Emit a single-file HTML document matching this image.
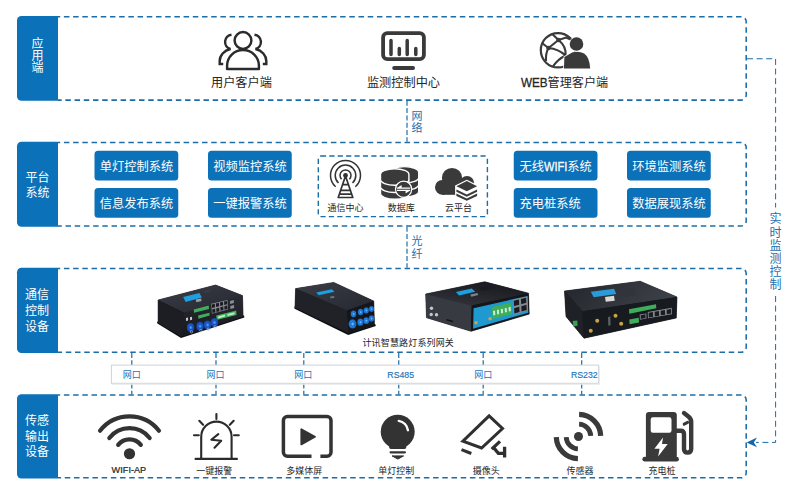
<!DOCTYPE html>
<html lang="zh-CN">
<head>
<meta charset="utf-8">
<title>智慧路灯系统架构图</title>
<style>
html,body{margin:0;padding:0;background:#fff;}
body{width:800px;height:500px;overflow:hidden;font-family:"Liberation Sans","Noto Sans CJK SC",sans-serif;}
svg{display:block;}
svg text{font-family:"Liberation Sans","Noto Sans CJK SC",sans-serif;}
</style>
</head>
<body>
<svg width="800" height="500" viewBox="0 0 800 500" role="img" aria-label="智慧路灯系统架构图">
<rect width="800" height="500" fill="#fff"/>
<g id="frames">
<path d="M58 16.75 H741.2 A5 5 0 0 1 746.2 21.75 V95.1 A5 5 0 0 1 741.2 100.1 H58" fill="none" stroke="#1d6da6" stroke-width="1.55" stroke-dasharray="5.5 3.707" stroke-dashoffset="3.3"/>
<path d="M58 16.05 H21.5 A4.5 4.5 0 0 0 17 20.55 V96.3 A4.5 4.5 0 0 0 21.5 100.8 H58 Z" fill="#0b71b8"/>
<path d="M58 142.5 H741.2 A5 5 0 0 1 746.2 147.5 V221 A5 5 0 0 1 741.2 226 H58" fill="none" stroke="#1d6da6" stroke-width="1.55" stroke-dasharray="5.5 3.707" stroke-dashoffset="3.3"/>
<path d="M58 141.8 H21.5 A4.5 4.5 0 0 0 17 146.3 V222.2 A4.5 4.5 0 0 0 21.5 226.7 H58 Z" fill="#0b71b8"/>
<path d="M58 268.5 H741.2 A5 5 0 0 1 746.2 273.5 V347.3 A5 5 0 0 1 741.2 352.3 H58" fill="none" stroke="#1d6da6" stroke-width="1.55" stroke-dasharray="5.5 3.707" stroke-dashoffset="3.3"/>
<path d="M58 267.8 H21.5 A4.5 4.5 0 0 0 17 272.3 V348.5 A4.5 4.5 0 0 0 21.5 353 H58 Z" fill="#0b71b8"/>
<path d="M58 395 H741.2 A5 5 0 0 1 746.2 400 V472.8 A5 5 0 0 1 741.2 477.8 H58" fill="none" stroke="#1d6da6" stroke-width="1.55" stroke-dasharray="5.5 3.707" stroke-dashoffset="3.3"/>
<path d="M58 394.3 H21.5 A4.5 4.5 0 0 0 17 398.8 V474 A4.5 4.5 0 0 0 21.5 478.5 H58 Z" fill="#0b71b8"/>
</g>
<g id="connectors" fill="none" stroke="#1d6da6" stroke-width="1.2" stroke-dasharray="5 2.3">
<path d="M407 100.8V141.8"/>
<path d="M407 226.8V267.8"/>
<path d="M131.8 353V365"/><path d="M131.8 383.4V394.4"/>
<path d="M216 353V365"/><path d="M216 383.4V394.4"/>
<path d="M303.8 353V365"/><path d="M303.8 383.4V394.4"/>
<path d="M398.75 353V365"/><path d="M398.75 383.4V394.4"/>
<path d="M483.2 353V365"/><path d="M483.2 383.4V394.4"/>
<path d="M581.7 353V365"/><path d="M581.7 383.4V394.4"/>
</g>
<g id="loop" fill="none" stroke="#1d6da6" stroke-width="1" stroke-dasharray="6 3.6">
<path d="M747 58.75H775.6V207.5"/>
<path d="M775.6 296V442.4H756"/>
</g>
<path d="M746.6 442.4L757 437.5L753.8 442.4L757 447.3Z" fill="#1565a8"/>
<g fill="#fff" aria-label="应"><text x="31.4" y="47.96" font-size="12">应</text></g>
<g fill="#fff" aria-label="用"><text x="31.4" y="60.06" font-size="12">用</text></g>
<g fill="#fff" aria-label="端"><text x="31.4" y="72.16" font-size="12">端</text></g>
<g fill="#fff" aria-label="平台"><text x="25.5" y="181.66" font-size="12">平台</text></g>
<g fill="#fff" aria-label="系统"><text x="25.5" y="196.76" font-size="12">系统</text></g>
<g fill="#fff" aria-label="通信"><text x="25" y="298.96" font-size="12">通信</text></g>
<g fill="#fff" aria-label="控制"><text x="25" y="314.96" font-size="12">控制</text></g>
<g fill="#fff" aria-label="设备"><text x="25" y="330.56" font-size="12">设备</text></g>
<g fill="#fff" aria-label="传感"><text x="25" y="425.16" font-size="12">传感</text></g>
<g fill="#fff" aria-label="输出"><text x="25" y="440.86" font-size="12">输出</text></g>
<g fill="#fff" aria-label="设备"><text x="25" y="456.26" font-size="12">设备</text></g>
<g fill="#1b6fae" aria-label="网"><text x="411.4" y="119.68" font-size="11">网</text></g>
<g fill="#1b6fae" aria-label="络"><text x="411.4" y="131.98" font-size="11">络</text></g>
<g fill="#1b6fae" aria-label="光"><text x="411.4" y="245.38" font-size="11">光</text></g>
<g fill="#1b6fae" aria-label="纤"><text x="411.4" y="257.68" font-size="11">纤</text></g>
<g fill="#1b6fae" aria-label="实"><text x="769.4" y="223.36" font-size="12">实</text></g>
<g fill="#1b6fae" aria-label="时"><text x="769.4" y="236.76" font-size="12">时</text></g>
<g fill="#1b6fae" aria-label="监"><text x="769.4" y="249.56" font-size="12">监</text></g>
<g fill="#1b6fae" aria-label="测"><text x="769.4" y="262.96" font-size="12">测</text></g>
<g fill="#1b6fae" aria-label="控"><text x="769.4" y="276.16" font-size="12">控</text></g>
<g fill="#1b6fae" aria-label="制"><text x="769.4" y="288.66" font-size="12">制</text></g>
<g fill="#262626" aria-label="用户客户端"><text x="211" y="87.24" font-size="12.2">用户客户端</text></g>
<g fill="#262626" aria-label="监测控制中心"><text x="366.9" y="87.24" font-size="12.2">监测控制中心</text></g>
<g fill="#262626" aria-label="WEB管理客户端"><text x="520.88" y="87.2" font-size="12.83" textLength="26.73" lengthAdjust="spacingAndGlyphs" stroke="#262626" stroke-width="0.3">WEB</text><text x="547.62" y="87.2" font-size="12.1">管理客户端</text></g>
<g id="ico-users" fill="none" stroke="#2b2b2b" stroke-width="2.45" stroke-linecap="butt" stroke-linejoin="round">
<circle cx="243" cy="40.5" r="8.4"/>
<path d="M227.1 68.9V65.6A15.9 15.6 0 0 1 258.9 65.6V68.9Z"/>
<path d="M231.5 34.7A7.3 7.3 0 0 0 230.5 49C224 50.5 219.7 55.5 219.7 61V63.9H223.2" stroke-linejoin="miter"/>
<path d="M254.5 34.7A7.3 7.3 0 0 1 255.5 49C262 50.5 266.3 55.5 266.3 61V63.9H262.8" stroke-linejoin="miter"/>
</g>
<g id="ico-monitor" fill="none" stroke="#3a3a3a" stroke-linecap="round">
<rect x="383.1" y="33.1" width="40.8" height="26" rx="4.2" stroke-width="3.8"/>
<path d="M391 40.6V54.6M407.2 40.6V54.6M399.3 48.6V54.6M415.8 48.6V54.6" stroke-width="3.5"/>
<path d="M394.2 68H413" stroke-width="4"/>
</g>
<g id="ico-web">
<g fill="none" stroke="#3a3a3a" stroke-width="2.1">
<circle cx="558" cy="50.25" r="17.2" stroke-width="2.2"/>
<path d="M558.5 40L552.5 34.2M558.5 40L566 37.6L573 40.6M558.5 40L548.5 48M558.5 40Q566.5 46.5 565.6 55.5M548.5 48L542.6 43.5M548.5 48Q545.5 53 546 61M548.5 48Q558.5 49 565.6 55.5Q558 59 553 66.4"/>
</g>
<circle cx="558.5" cy="40" r="2.3" fill="#3a3a3a"/><circle cx="548.5" cy="48" r="2.3" fill="#3a3a3a"/>
<g fill="#3a3a3a" stroke="#fff" stroke-width="1.6" paint-order="stroke">
<path d="M563.9 68.6L564.4 57L572.6 52.3Q579 50.6 584.2 53.6Q589.6 57.5 590.2 68.6Z"/>
<circle cx="576.5" cy="44" r="6.8"/>
</g></g>
<rect x="94.5" y="150.75" width="83.75" height="29.8" rx="3.5" fill="#0b71b8"/>
<g fill="#fff" aria-label="单灯控制系统"><text x="99.65" y="171.31" font-size="12.25">单灯控制系统</text></g>
<rect x="94.5" y="188" width="83.75" height="29.8" rx="3.5" fill="#0b71b8"/>
<g fill="#fff" aria-label="信息发布系统"><text x="99.65" y="207.96" font-size="12.25">信息发布系统</text></g>
<rect x="208" y="150.75" width="83.75" height="29.8" rx="3.5" fill="#0b71b8"/>
<g fill="#fff" aria-label="视频监控系统"><text x="213.15" y="171.31" font-size="12.25">视频监控系统</text></g>
<rect x="208" y="188" width="83.75" height="29.8" rx="3.5" fill="#0b71b8"/>
<g fill="#fff" aria-label="一键报警系统"><text x="213.15" y="207.96" font-size="12.25">一键报警系统</text></g>
<rect x="513.75" y="150.75" width="83.75" height="29.8" rx="3.5" fill="#0b71b8"/>
<g fill="#fff" aria-label="无线WIFI系统"><text x="519.48" y="171.31" font-size="12.25">无线</text><text x="543.98" y="171.31" font-size="12.86" textLength="23.34" lengthAdjust="spacingAndGlyphs" stroke="#fff" stroke-width="0.3">WIFI</text><text x="567.32" y="171.31" font-size="12.25">系统</text></g>
<rect x="513.75" y="188" width="83.75" height="29.8" rx="3.5" fill="#0b71b8"/>
<g fill="#fff" aria-label="充电桩系统"><text x="519.55" y="207.96" font-size="12.25">充电桩系统</text></g>
<rect x="627" y="150.75" width="83.75" height="29.8" rx="3.5" fill="#0b71b8"/>
<g fill="#fff" aria-label="环境监测系统"><text x="632.15" y="171.31" font-size="12.25">环境监测系统</text></g>
<rect x="627" y="188" width="83.75" height="29.8" rx="3.5" fill="#0b71b8"/>
<g fill="#fff" aria-label="数据展现系统"><text x="632.15" y="207.96" font-size="12.25">数据展现系统</text></g>
<rect x="318.3" y="156" width="169.1" height="60.6" rx="2.6" fill="none" stroke="#1d6da6" stroke-width="1.4" stroke-dasharray="5.2 3.2"/>
<g fill="#262626" aria-label="通信中心"><text x="327.5" y="210.72" font-size="9">通信中心</text></g>
<g fill="#262626" aria-label="数据库"><text x="387.7" y="210.92" font-size="9">数据库</text></g>
<g fill="#262626" aria-label="云平台"><text x="445.1" y="210.92" font-size="9">云平台</text></g>
<g id="ico-tower" fill="none" stroke="#333" stroke-width="1.5">
<path d="M341.54 179.22A5.5 5.5 0 1 1 349.46 179.22"/>
<path d="M338.48 182.93A10.3 10.3 0 1 1 352.52 182.93"/>
<path d="M335.66 186.72A15.0 15.0 0 1 1 355.34 186.72"/>
<path d="M345.5 176L338.2 197.5H352.8Z" fill="#fff" stroke-width="1.7" stroke-linejoin="round"/>
<path d="M342.6 184.6H348.4M340.7 190.3H350.3M339.4 194.1H351.6" stroke-width="1.7"/>
<circle cx="345.5" cy="175.4" r="2.4" fill="#333" stroke="none"/>
</g>
<g id="ico-db" fill="#3a3a3a" stroke="#fff" stroke-width="1.4">
<path d="M390.3 186A14.2 5.7 0 0 1 418.7 186V191.4A14.2 5.7 0 0 1 390.3 191.4Z"/>
<path d="M390.3 178.8A14.2 5.7 0 0 1 418.7 178.8V184.6A14.2 5.7 0 0 1 390.3 184.6Z"/>
<path d="M390.3 172.3A14.2 5.7 0 0 1 418.7 172.3V177.4A14.2 5.7 0 0 1 390.3 177.4Z"/>
<path d="M380.5 188.2A14.2 5.7 0 0 1 408.9 188.2V193.6A14.2 5.7 0 0 1 380.5 193.6Z"/>
<path d="M380.5 181A14.2 5.7 0 0 1 408.9 181V186.8A14.2 5.7 0 0 1 380.5 186.8Z"/>
<path d="M380.5 174.5A14.2 5.7 0 0 1 408.9 174.5V179.6A14.2 5.7 0 0 1 380.5 179.6Z"/>
<circle cx="403.6" cy="189.2" r="8.1" stroke-width="1.2"/>
<g fill="#fff" stroke="none"><path d="M397 187.4H410.2V188.7H397ZM397 188L401.6 184.9V188Z"/><path d="M397 189.8H410.2V191.1H397ZM410.2 190.4L405.6 193.6V190.4Z"/></g>
</g>
<g id="ico-cloud">
<g fill="#3a3a3a"><circle cx="452" cy="178" r="10.1"/><circle cx="442.4" cy="187.3" r="7.4"/><circle cx="467" cy="183" r="7.1"/><rect x="442" y="184" width="25" height="10.8"/></g>
<polygon points="466.8,179.8 478.4,185.5 478.4,195.4 466.8,201.1 455.1,195.4 455.1,185.5" fill="#fff"/>
<g fill="#3a3a3a">
<polygon points="456.4,186.2 466.8,181.1 477.1,186.2 466.8,191.3"/>
<polygon points="456.4,189.5 466.8,194.4 477.1,189.5 477.1,191.8 466.8,196.7 456.4,191.8"/>
<polygon points="456.4,193.6 466.8,198.5 477.1,193.6 477.1,195.9 466.8,200.8 456.4,195.9"/>
</g></g>
<g fill="#262626" aria-label="计讯智慧路灯系列网关"><text x="362.47" y="345.72" font-size="9" textLength="91.4" lengthAdjust="spacing">计讯智慧路灯系列网关</text></g>
<defs><linearGradient id="gt" x1="0" y1="0" x2="1" y2="1"><stop offset="0" stop-color="#3a3d46"/><stop offset="1" stop-color="#262830"/></linearGradient><linearGradient id="gf" x1="0" y1="0" x2="0" y2="1"><stop offset="0" stop-color="#2a2c33"/><stop offset="1" stop-color="#17181d"/></linearGradient><linearGradient id="gt3" x1="0" y1="1" x2="0.6" y2="0"><stop offset="0" stop-color="#34363e"/><stop offset="1" stop-color="#191a1f"/></linearGradient><radialGradient id="gb2"><stop offset="0" stop-color="#6cc0ff"/><stop offset="0.6" stop-color="#2288ea"/><stop offset="1" stop-color="#155fb5"/></radialGradient><linearGradient id="gt4" x1="0" y1="0" x2="1" y2="0.3"><stop offset="0" stop-color="#23252b"/><stop offset="1" stop-color="#3c4048"/></linearGradient><radialGradient id="gb"><stop offset="0" stop-color="#5aa0ff"/><stop offset="0.55" stop-color="#1f62d6"/><stop offset="1" stop-color="#123f9a"/></radialGradient></defs>
<g id="dev1">
<polygon points="156.9,321.8 157.4,323.6 181,338 244.4,317.4 244,315.4" fill="#0e0f12" />
<polygon points="158.1,300 215.6,285 242.5,295.6 243.1,316.3 181.3,336.3 158.1,322.5" fill="#1d1e24" stroke="#1d1e24" stroke-width="0.6"/>
<polygon points="158.1,300 215.6,285 242.5,295.6 184.4,312.8" fill="url(#gt)" />
<polygon points="158.1,300 184.4,312.8 181.3,336.3 158.1,322.5" fill="#1d1e24" />
<polygon points="184.4,312.8 242.5,295.6 243.1,316.3 181.3,336.3" fill="url(#gf)" />
<polygon points="183.1,296.9 199.4,293.1 201.9,297.5 185.6,301.9" fill="#1d9fe0" />
<polygon points="195.8,299.6 201,298.4 201.6,301 196.4,302.3" fill="#9aa0a8" />
<polygon points="204,291.2 209,290.1 210,291.6 205,292.8" fill="#3b3e46" />
<polygon points="211.25,303.75 227.5,300 228.1,309.4 211.9,313.75" fill="#858a92" />
<polygon points="211.87,304.42 214.79,303.73 215.03,307.29 212.1,308.01" fill="#1b1c20" />
<polygon points="212.19,309.41 215.11,308.67 215.34,312.22 212.43,313" fill="#1b1c20" />
<polygon points="215.93,303.47 218.86,302.78 219.08,306.28 216.16,307.01" fill="#1b1c20" />
<polygon points="216.25,308.38 219.17,307.64 219.4,311.14 216.48,311.92" fill="#1b1c20" />
<polygon points="219.99,302.52 222.92,301.83 223.14,305.28 220.22,306" fill="#1b1c20" />
<polygon points="220.31,307.36 223.23,306.62 223.45,310.07 220.53,310.84" fill="#1b1c20" />
<polygon points="224.06,301.57 226.98,300.88 227.2,304.28 224.27,305" fill="#1b1c20" />
<polygon points="224.36,306.33 227.28,305.6 227.5,308.99 224.58,309.76" fill="#1b1c20" />
<polygon points="230,301 233.75,300.1 233.9,303 230.15,303.9" fill="#8a8e95" />
<polygon points="230.3,306 234.05,305.1 234.2,308 230.45,308.9" fill="#8a8e95" />
<polygon points="193.75,309.4 208.75,305.6 209,309 194,312.75" fill="#3fae5c" />
<polygon points="198.1,315.6 209.4,312.75 209.6,315.6 198.4,318.75" fill="#3fae5c" />
<polygon points="216.25,315.6 236.25,310.6 236.5,315 216.5,320" fill="#3fae5c" />
<polygon points="218,316.4 225,314.6 225.1,316.6 218.1,318.4" fill="#bfe9c9" />
<polygon points="227.5,314 234.5,312.2 234.6,314.2 227.6,316" fill="#bfe9c9" />
<polygon points="186,318 188,317.6 188.1,320.6 186.1,321" fill="#c9ccd2" />
<polygon points="190,317.2 192,316.8 192.1,319.8 190.1,320.2" fill="#c9ccd2" />
<ellipse cx="190.6" cy="327.49" rx="3.77" ry="4.43" fill="url(#gb)"/>
<circle cx="190.93" cy="327.62" r="2.05" fill="none" stroke="#0d3a8c" stroke-opacity="0.55" stroke-width="0.9"/>
<circle cx="191.4" cy="331.9" r="1.2" fill="none" stroke="#b9bec6" stroke-width="0.6"/>
<ellipse cx="200" cy="326.19" rx="3.77" ry="4.43" fill="url(#gb)"/>
<circle cx="200.33" cy="326.31" r="2.05" fill="none" stroke="#0d3a8c" stroke-opacity="0.55" stroke-width="0.9"/>
<circle cx="200.8" cy="330.6" r="1.2" fill="none" stroke="#b9bec6" stroke-width="0.6"/>
<ellipse cx="207.5" cy="324.89" rx="3.77" ry="4.43" fill="url(#gb)"/>
<circle cx="207.83" cy="325.01" r="2.05" fill="none" stroke="#0d3a8c" stroke-opacity="0.55" stroke-width="0.9"/>
<circle cx="208.3" cy="329.3" r="1.2" fill="none" stroke="#b9bec6" stroke-width="0.6"/>
<ellipse cx="214.4" cy="322.49" rx="3.77" ry="4.43" fill="url(#gb)"/>
<circle cx="214.73" cy="322.62" r="2.05" fill="none" stroke="#0d3a8c" stroke-opacity="0.55" stroke-width="0.9"/>
<circle cx="215.2" cy="326.9" r="1.2" fill="none" stroke="#b9bec6" stroke-width="0.6"/>
</g>
<g id="dev2">
<polygon points="294.2,306.6 294.6,308.8 348.2,335 375.8,326 375.4,324.2" fill="#0e0f12" />
<polygon points="295.6,288.6 333.75,282.4 373.75,301.1 374.4,324.9 348.75,333 295,307.4" fill="#1c1d22" stroke="#1c1d22" stroke-width="0.6"/>
<polygon points="295.6,288.6 333.75,282.4 373.75,301.1 346.9,310.5" fill="url(#gt)" />
<polygon points="295.6,288.6 346.9,310.5 348.75,333 295,307.4" fill="#202228" />
<polygon points="346.9,310.5 373.75,301.1 374.4,324.9 348.75,333" fill="#15161a" />
<polygon points="316.25,292.4 331.9,289.25 334.4,291.75 318.75,295.25" fill="#1d9fe0" />
<polygon points="330,296.6 334,295.9 334.7,297.7 330.7,298.5" fill="#6f737b" />
<ellipse cx="353.5" cy="313.97" rx="2.85" ry="3.35" fill="url(#gb2)"/>
<circle cx="353.75" cy="314.06" r="1.55" fill="none" stroke="#0d3a8c" stroke-opacity="0.55" stroke-width="0.68"/>
<ellipse cx="360.6" cy="312.11" rx="2.76" ry="3.24" fill="url(#gb2)"/>
<circle cx="360.84" cy="312.2" r="1.5" fill="none" stroke="#0d3a8c" stroke-opacity="0.55" stroke-width="0.66"/>
<ellipse cx="366.25" cy="310.45" rx="2.67" ry="3.13" fill="url(#gb2)"/>
<circle cx="366.48" cy="310.54" r="1.45" fill="none" stroke="#0d3a8c" stroke-opacity="0.55" stroke-width="0.64"/>
<ellipse cx="371.5" cy="308.94" rx="2.58" ry="3.02" fill="url(#gb2)"/>
<circle cx="371.72" cy="309.02" r="1.4" fill="none" stroke="#0d3a8c" stroke-opacity="0.55" stroke-width="0.62"/>
<ellipse cx="352.5" cy="323.92" rx="3.96" ry="4.64" fill="url(#gb2)"/>
<circle cx="352.84" cy="324.04" r="2.15" fill="none" stroke="#0d3a8c" stroke-opacity="0.55" stroke-width="0.95"/>
<ellipse cx="360.4" cy="322.16" rx="3.13" ry="3.67" fill="url(#gb2)"/>
<circle cx="360.67" cy="322.26" r="1.7" fill="none" stroke="#0d3a8c" stroke-opacity="0.55" stroke-width="0.75"/>
<ellipse cx="366.25" cy="320.63" rx="2.94" ry="3.46" fill="url(#gb2)"/>
<circle cx="366.51" cy="320.73" r="1.6" fill="none" stroke="#0d3a8c" stroke-opacity="0.55" stroke-width="0.7"/>
<ellipse cx="371.5" cy="318.61" rx="2.76" ry="3.24" fill="url(#gb2)"/>
<circle cx="371.74" cy="318.7" r="1.5" fill="none" stroke="#0d3a8c" stroke-opacity="0.55" stroke-width="0.66"/>
</g>
<g id="dev3">
<polygon points="425.7,294 484.7,281.75 528.5,293.2 529.2,314.1 471,331.3 426.5,317.7" fill="#1c1d22" stroke="#1c1d22" stroke-width="0.6"/>
<polygon points="425.7,294 484.7,281.75 528.5,293.2 471.7,305.5" fill="url(#gt3)" />
<polygon points="425.7,294 471.7,305.5 471,331.3 426.5,317.7" fill="#383a42" />
<polygon points="471.7,305.5 528.5,293.2 529.2,314.1 471,331.3" fill="#15161a" />
<polygon points="473.61,308.14 527.73,295.9 528.27,312.68 473.09,328.65" fill="#1f9ad0" />
<polygon points="455.9,292.1 471.7,288.6 475.3,291.8 459.1,295.4" fill="#1d9fe0" />
<polygon points="470.3,294.4 477.4,292.9 478.4,295.1 471.3,296.7" fill="#7d828a" />
<polygon points="479,287.6 492,285 495,288.2 482,290.9" fill="#1b1c21" />
<polygon points="491.8,306.9 511.2,302.6 512,314.1 492.6,319.1" fill="#3fae5c" />
<polygon points="493.05,310.94 494.99,310.49 495.29,314.96 493.35,315.44" fill="#c9f0d2" />
<polygon points="496.93,310.03 498.87,309.58 499.17,314 497.23,314.48" fill="#c9f0d2" />
<polygon points="500.81,309.12 502.75,308.67 503.05,313.04 501.11,313.52" fill="#c9f0d2" />
<polygon points="504.69,308.22 506.63,307.76 506.93,312.08 504.99,312.56" fill="#c9f0d2" />
<polygon points="508.57,307.31 510.51,306.85 510.81,311.12 508.87,311.6" fill="#c9f0d2" />
<polygon points="512.7,299.7 527,296.4 527.8,310.5 513.4,314.8" fill="#858a92" />
<polygon points="513.76,300.67 518.91,299.45 519.18,304.74 514.01,306.08" fill="#1b1c20" />
<polygon points="514.11,308.19 519.28,306.79 519.55,312.07 514.37,313.6" fill="#1b1c20" />
<polygon points="520.91,298.98 526.06,297.76 526.35,302.87 521.18,304.21" fill="#1b1c20" />
<polygon points="521.29,306.25 526.46,304.85 526.74,309.95 521.56,311.48" fill="#1b1c20" />
<circle cx="476" cy="322.7" r="1.8" fill="#c9a349"/>
<circle cx="490.1" cy="318.8" r="1.8" fill="#c9a349"/>
<circle cx="431.5" cy="308.3" r="1.7" fill="#c3c7cd"/>
<circle cx="431.2" cy="314.5" r="1.7" fill="#c3c7cd"/>
<circle cx="436.5" cy="314.8" r="1.7" fill="#c3c7cd"/>
<polygon points="446.5,319 453,320.8 453,322.2 446.5,320.4" fill="#111215" />
</g>
<g id="dev4">
<polygon points="564.5,291 640.2,281.25 677,297 676.25,318 584,338.25 566,316.5" fill="#1c1d22" stroke="#1c1d22" stroke-width="0.6"/>
<polygon points="564.5,291 640.2,281.25 677,297 582.5,311.25" fill="url(#gt4)" />
<polygon points="564.5,291 582.5,311.25 584,338.25 566,316.5" fill="#1f2127" />
<polygon points="582.5,311.25 677,297 676.25,318 584,338.25" fill="#171a1f" />
<polygon points="572.75,321 577.25,320.4 577.6,325.8 573.1,326.4" fill="#35a04f" />
<polygon points="590.75,291.75 614,288.75 616.25,294 593.75,297.3" fill="#2a9bd8" />
<polygon points="605,297 614,295.8 614.75,300.75 605.75,301.8" fill="#dcd9d7" />
<polygon points="622,290.4 634.5,288.8 636.5,295.2 624,297" fill="#31343c" />
<polygon points="629,309.3 656,304.2 656.3,308.25 629.3,313.8" fill="#3fae5c" />
<polygon points="629.3,319.5 638.75,317.7 639,322.5 629.6,324.3" fill="#3fae5c" />
<polygon points="639.7,314.6 646.3,313.4 646.5,318.4 639.9,319.7" fill="#858a92" />
<polygon points="640.66,315.25 645.41,314.37 645.55,317.98 640.8,318.91" fill="#1b1c20" />
<polygon points="647.75,312 671.75,307.8 672,314.25 648,318.3" fill="#858a92" />
<polygon points="648.63,312.86 652.95,312.11 653.13,316.67 648.81,317.4" fill="#1b1c20" />
<polygon points="654.63,311.82 658.95,311.07 659.13,315.65 654.81,316.38" fill="#1b1c20" />
<polygon points="660.63,310.77 664.95,310.02 665.13,314.64 660.81,315.37" fill="#1b1c20" />
<polygon points="666.63,309.73 670.95,308.98 671.13,313.62 666.81,314.35" fill="#1b1c20" />
<circle cx="597.2" cy="320.7" r="2" fill="#c9a349"/>
<circle cx="590.75" cy="330.75" r="2" fill="#c9a349"/>
<circle cx="615.5" cy="315.75" r="2" fill="#c9a349"/>
<circle cx="621.2" cy="323.7" r="2" fill="#c9a349"/>
<polygon points="608,316.9 610.3,316.5 610.6,325.2 608.3,325.7" fill="#5c6068" />
</g>
<rect x="111.4" y="365.1" width="487.2" height="18.2" fill="#fff" stroke="#cfd2d6" stroke-width="1"/>
<path d="M112.4 384.3H599.4V366" fill="none" stroke="#e9eaec" stroke-width="1"/>
<g fill="#1b75bc" aria-label="网口"><text x="122.65" y="378.32" font-size="9">网口</text></g>
<g fill="#1b75bc" aria-label="网口"><text x="206.5" y="378.32" font-size="9">网口</text></g>
<g fill="#1b75bc" aria-label="网口"><text x="294.2" y="378.32" font-size="9">网口</text></g>
<g fill="#1b75bc" aria-label="网口"><text x="474.2" y="378.32" font-size="9">网口</text></g>
<g fill="#1b75bc" aria-label="RS485"><text x="387.35" y="378" font-size="9" textLength="26.69" lengthAdjust="spacingAndGlyphs" stroke="#1b75bc" stroke-width="0.15">RS485</text></g>
<g fill="#1b75bc" aria-label="RS232"><text x="570.95" y="378" font-size="9" textLength="26.69" lengthAdjust="spacingAndGlyphs" stroke="#1b75bc" stroke-width="0.15">RS232</text></g>
<g fill="#262626" aria-label="WIFI-AP"><text x="111.59" y="473" font-size="8.73" textLength="34.63" lengthAdjust="spacingAndGlyphs" stroke="#262626" stroke-width="0.2">WIFI-AP</text></g>
<g fill="#262626" aria-label="一键报警"><text x="196.25" y="473.62" font-size="9">一键报警</text></g>
<g fill="#262626" aria-label="多媒体屏"><text x="286.25" y="473.62" font-size="9">多媒体屏</text></g>
<g fill="#262626" aria-label="单灯控制"><text x="378.2" y="473.62" font-size="9">单灯控制</text></g>
<g fill="#262626" aria-label="摄像头"><text x="472.7" y="473.62" font-size="9">摄像头</text></g>
<g fill="#262626" aria-label="传感器"><text x="566.5" y="473.62" font-size="9">传感器</text></g>
<g fill="#262626" aria-label="充电桩"><text x="648.5" y="473.62" font-size="9">充电桩</text></g>
<g id="ico-wifi" fill="none" stroke="#333" stroke-width="4.2" stroke-linecap="round">
<path d="M118.15 444.88A14.4 14.4 0 0 1 140.85 444.88"/>
<path d="M109.33 437.99A25.6 25.6 0 0 1 149.67 437.99"/>
<path d="M100.03 430.72A37.4 37.4 0 0 1 158.97 430.72"/>
<circle cx="129.5" cy="453.75" r="5.6" fill="#333" stroke="none"/>
</g>
<g id="ico-alarm" fill="none" stroke="#2b2b2b" stroke-width="2.1" stroke-linecap="round" stroke-linejoin="round">
<path d="M201.2 458.9V436.8A15.2 15.2 0 0 1 231.6 436.8V458.9"/>
<path d="M195.6 458.9H236.9" stroke-width="2.2"/>
<path d="M218.3 434.1L211.3 439.7L221.2 440.8L214.5 447.7"/>
<path d="M216.4 414.1V418.9M199.3 420.8L203.1 424.8M233.7 420.8L229.8 424.8M194 435.2H198.8M234 435.2H238.8"/>
</g>
<g id="ico-media">
<path d="M311.5 456.2H287.4A4 4 0 0 1 283.4 452.2V420.5A4 4 0 0 1 287.4 416.5H327A4 4 0 0 1 331 420.5V452.2A4 4 0 0 1 327 456.2H320.4" fill="none" stroke="#333" stroke-width="3.5"/>
<path d="M301.3 429.2L315 436.7L301.3 444.4Z" fill="#333" stroke="#333" stroke-width="1.8" stroke-linejoin="round"/>
</g>
<g id="ico-bulb" fill="#333">
<circle cx="397.7" cy="431.7" r="17"/>
<path d="M389.2 444V447.3Q389.2 448.9 390.8 448.9H404.6Q406.2 448.9 406.2 447.3V444Z"/>
<path d="M390.6 452.3H404.9" stroke="#333" stroke-width="2.2" stroke-linecap="round"/>
<path d="M392 455.9H403.6L397.9 459.1Z" stroke="#333" stroke-width="1" stroke-linejoin="round"/>
<path d="M398.8 420.9A10.6 10.6 0 0 1 407.9 430.2" fill="none" stroke="#fff" stroke-width="2.4" stroke-linecap="round"/>
</g>
<g id="ico-cam" fill="none" stroke="#303030" stroke-width="3" stroke-linejoin="miter">
<path d="M489.1 415.9L502.5 428.5L481.6 448L462.9 441.2Z"/>
<path d="M461.5 449.6L471.3 453.5" stroke-width="3.1"/>
<path d="M500 441.4L491.7 449.1" stroke-width="3.3"/>
<path d="M493.4 447.4L498.4 453.3H504.6M504.6 446.7V457.6" stroke-width="3.3"/>
</g>
<g id="ico-sensor" fill="none" stroke="#3a3a3a">
<path d="M579.1 424.2A12.3 12.3 0 0 1 590.8 435.9" stroke-width="4.8"/>
<path d="M577.9 448.8A12.3 12.3 0 0 1 566.2 437.1" stroke-width="4.8"/>
<path d="M579.1 414.3A22.2 22.2 0 0 1 600.7 435.9" stroke-width="5.2"/>
<path d="M577.9 458.7A22.2 22.2 0 0 1 556.3 437.1" stroke-width="5.2"/>
<circle cx="578.5" cy="436.5" r="4.5" fill="#3a3a3a" stroke="none"/>
</g>
<g id="ico-charge">
<rect x="645.9" y="412" width="30.9" height="47" rx="3.2" fill="#3a3a3a"/>
<rect x="642.4" y="456.8" width="36.5" height="4.8" rx="2.4" fill="#3a3a3a"/>
<rect x="650.7" y="417.3" width="20.8" height="15.5" rx="2.2" fill="#fff"/>
<path d="M663 437.4L654.4 448.8H659.6L658.1 456.4L667.7 444H662Z" fill="#fff"/>
<path d="M676 430.7H680.6Q684 430.7 684 434.2V448.8Q684 452.6 687.6 452.6Q691.2 452.6 691.2 448.8V421.8Q691.2 418.6 688.4 416.4L684 413" fill="none" stroke="#3a3a3a" stroke-width="4.4" stroke-linecap="round" stroke-linejoin="round"/>
<path d="M684.2 424.2L687.6 422.4" fill="none" stroke="#3a3a3a" stroke-width="3" stroke-linecap="round"/>
</g>
</svg>
</body>
</html>
